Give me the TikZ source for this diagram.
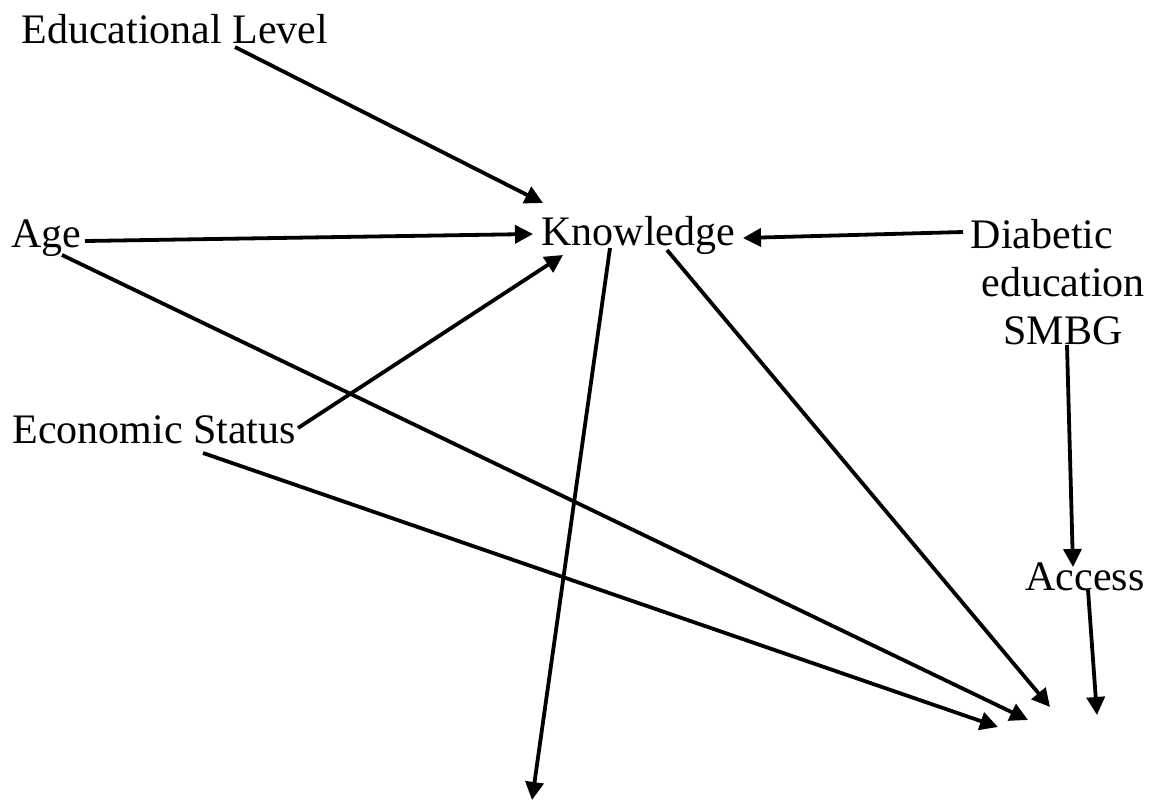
\documentclass[tikz,border=0pt]{standalone}
\usepackage{fontspec}
\setmainfont{Liberation Serif}
\usetikzlibrary{arrows.meta}
\begin{document}
\begin{tikzpicture}[x=0.5pt,y=-0.5pt,
  lbl/.style={inner sep=0pt, font=\fontsize{21}{24}\selectfont},
  conn/.style={line width=1.9pt, -{Triangle[length=9pt,width=9pt]}}]
\useasboundingbox (0,0) rectangle (1151,803);
\node[lbl, anchor=base west] (edu) at (21,43) {Educational Level};
\node[lbl, anchor=base west] (age) at (11,247) {Age};
\node[lbl, anchor=base west] (know) at (541,245) {Knowledge};
\node[lbl, anchor=north, align=center] (diab) at (1063,219) {Diabetic\rule{1em}{0pt}\\education\\SMBG};
\node[lbl, anchor=base west] (econ) at (12,443) {Economic Status};
\node[lbl, anchor=base west] (acc) at (1025,590) {Access};
\coordinate (t0) at (532,800);
\coordinate (t1) at (1050,707);
\coordinate (t2) at (1028,720);
\coordinate (t3) at (998,727);
\coordinate (t4) at (1097,715);
\draw[conn] ([shift={(214,4)}]edu.base west) -- ([shift={(2,-42)}]know.base west);
\draw[conn] ([shift={(74,-6)}]age.base west) -- ([shift={(-8,-11)}]know.base west);
\draw[conn] ([shift={(-100,13)}]diab.north) -- ([shift={(202,-7)}]know.base west);
\draw[conn] ([shift={(286,-15)}]econ.base west) -- ([shift={(22,10)}]know.base west);
\draw[conn] ([shift={(51,8)}]age.base west) -- (t2);
\draw[conn] ([shift={(191,10)}]econ.base west) -- (t3);
\draw[conn] ([shift={(126,5)}]know.base west) -- (t1);
\draw[conn] ([shift={(69,3)}]know.base west) -- (t0);
\draw[conn] ([shift={(4,126)}]diab.north) -- ([shift={(48,-23)}]acc.base west);
\draw[conn] ([shift={(63,0)}]acc.base west) -- (t4);
\end{tikzpicture}
\end{document}
